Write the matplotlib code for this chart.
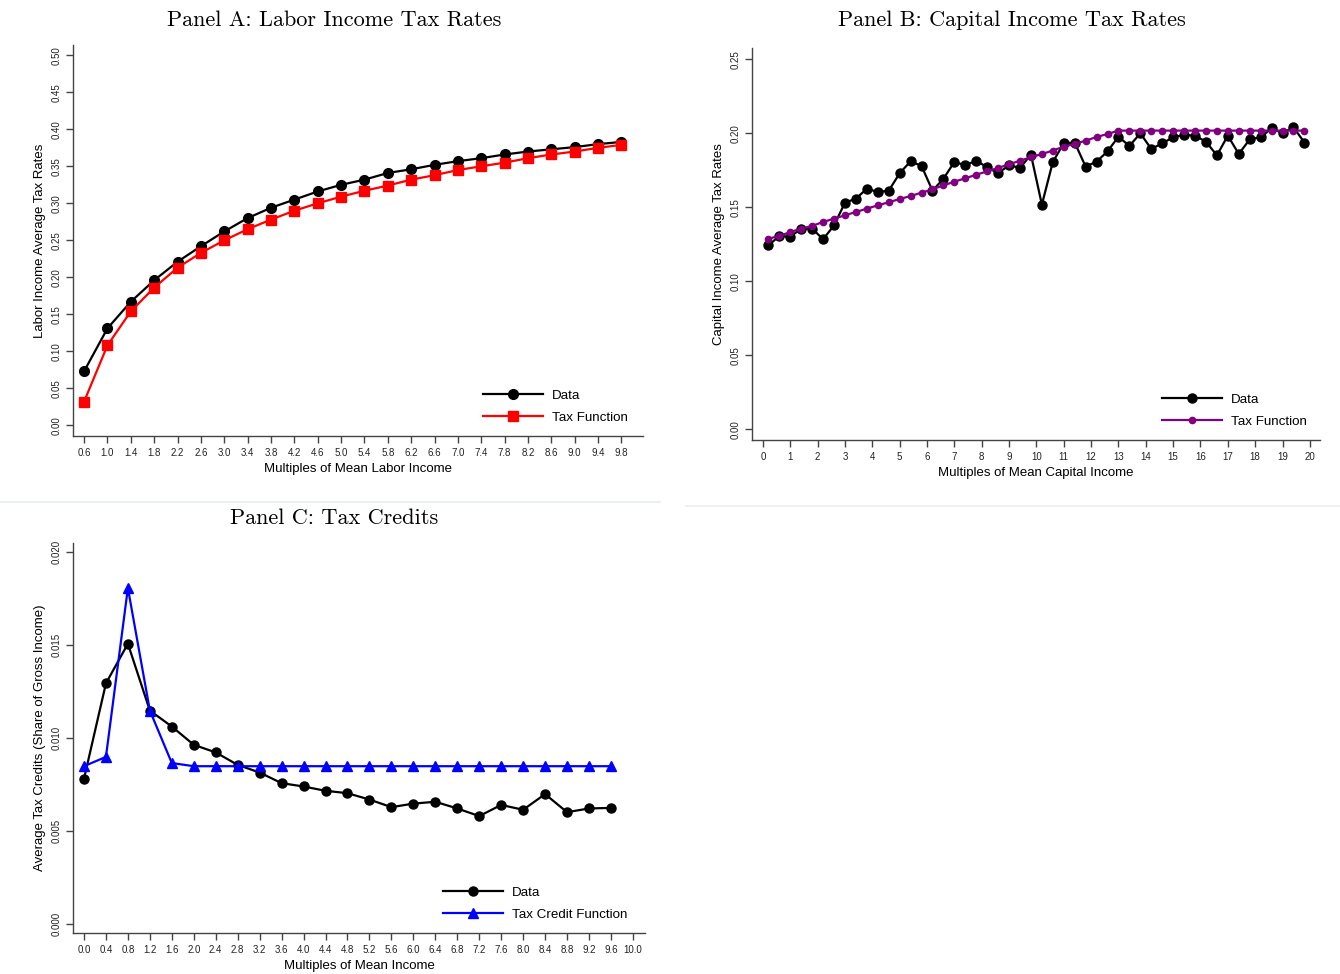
import matplotlib
matplotlib.use("Agg")
import matplotlib.pyplot as plt
import numpy as np

# Panel A: labor income
labor_x = [0.6, 1.0, 1.4, 1.8, 2.2, 2.6, 3.0, 3.4, 3.8, 4.2, 4.6, 5.0,
           5.4, 5.8, 6.2, 6.6, 7.0, 7.4, 7.8, 8.2, 8.6, 9.0, 9.4, 9.8]
labor_data = [0.073, 0.131, 0.167, 0.196, 0.221, 0.242, 0.262, 0.280, 0.294, 0.305,
              0.316, 0.325, 0.332, 0.341, 0.346, 0.352, 0.357, 0.361, 0.366, 0.370,
              0.373, 0.376, 0.380, 0.383]
labor_fn = [0.032, 0.108, 0.154, 0.186, 0.213, 0.233, 0.250, 0.265, 0.278, 0.290,
            0.300, 0.309, 0.317, 0.324, 0.332, 0.338, 0.345, 0.350, 0.355, 0.361,
            0.366, 0.370, 0.375, 0.379]

# Panel B: capital income
cap_x = [0.2, 0.6, 1.0, 1.4, 1.8, 2.2, 2.6, 3.0, 3.4, 3.8, 4.2, 4.6, 5.0, 5.4,
         5.8, 6.2, 6.6, 7.0, 7.4, 7.8, 8.2, 8.6, 9.0, 9.4, 9.8, 10.2, 10.6, 11.0,
         11.4, 11.8, 12.2, 12.6, 13.0, 13.4, 13.8, 14.2, 14.6, 15.0, 15.4, 15.8,
         16.2, 16.6, 17.0, 17.4, 17.8, 18.2, 18.6, 19.0, 19.4, 19.8]
cap_data = [0.1243, 0.1306, 0.1301, 0.1356, 0.1356, 0.1284, 0.1378, 0.1531, 0.1558, 0.1626,
            0.1603, 0.1612, 0.1730, 0.1811, 0.1779, 0.1612, 0.1693, 0.1806, 0.1784, 0.1815,
            0.1770, 0.1730, 0.1784, 0.1766, 0.1856, 0.1518, 0.1806, 0.1932, 0.1937, 0.1775,
            0.1808, 0.1878, 0.1977, 0.1914, 0.2000, 0.1894, 0.1932, 0.1973, 0.1989, 0.1984,
            0.1943, 0.1851, 0.1984, 0.1860, 0.1959, 0.1973, 0.2034, 0.2000, 0.2041, 0.1937]
cap_fn = [0.1288, 0.1306, 0.1333, 0.1356, 0.1374, 0.1401, 0.1423, 0.1446, 0.1468, 0.1491,
          0.1513, 0.1534, 0.1556, 0.1576, 0.1599, 0.1621, 0.1648, 0.1673, 0.1696, 0.1720,
          0.1743, 0.1766, 0.1790, 0.1815, 0.1838, 0.1860, 0.1883, 0.1910, 0.1928, 0.1950,
          0.1975, 0.1995, 0.2018, 0.2018, 0.2018, 0.2018, 0.2018, 0.2018, 0.2018, 0.2018,
          0.2018, 0.2018, 0.2018, 0.2018, 0.2018, 0.2018, 0.2018, 0.2018, 0.2018, 0.2018]

# Panel C: tax credits
cred_x = [0.0, 0.4, 0.8, 1.2, 1.6, 2.0, 2.4, 2.8, 3.2, 3.6, 4.0, 4.4, 4.8,
          5.2, 5.6, 6.0, 6.4, 6.8, 7.2, 7.6, 8.0, 8.4, 8.8, 9.2, 9.6]
cred_data = [0.00781, 0.01294, 0.01507, 0.01148, 0.01062, 0.00964, 0.00923, 0.00856, 0.00815,
             0.00758, 0.00740, 0.00717, 0.00704, 0.00670, 0.00629, 0.00648, 0.00658, 0.00622,
             0.00581, 0.00641, 0.00615, 0.00699, 0.00602, 0.00622, 0.00625]
cred_fn = [0.00849, 0.00899, 0.01806, 0.01148, 0.00866, 0.00849, 0.00849, 0.00849, 0.00849,
           0.00849, 0.00849, 0.00849, 0.00849, 0.00849, 0.00849, 0.00849, 0.00849, 0.00849,
           0.00849, 0.00849, 0.00849, 0.00849, 0.00849, 0.00849, 0.00849]

labor_ticks = labor_x
cap_ticks = list(range(0, 21))
cred_ticks = cred_x + [10.0]

W, H = 1340, 974
fig = plt.figure(figsize=(W / 100, H / 100), dpi=100)
plt.rcParams['font.family'] = ['Liberation Sans', 'DejaVu Sans']

def box(l, r, t, b):
    return [l / W, 1 - b / H, (r - l) / W, (b - t) / H]

def style(ax):
    for s in ['top', 'right']:
        ax.spines[s].set_visible(False)
    for s in ['left', 'bottom']:
        ax.spines[s].set_color('#444444')
        ax.spines[s].set_linewidth(1.0)
    ax.tick_params(direction='out', length=5, width=1, color='#444444',
                   labelsize=7, labelcolor='#222222')
    ax.tick_params(axis='y', labelrotation=90)
    for lab in ax.get_yticklabels():
        lab.set_va('center')

def legend(ax, x, y):
    ax.legend(loc='lower right', bbox_to_anchor=(x, y), frameon=False,
              fontsize=9.6, handlelength=4.5, handletextpad=0.7, labelspacing=0.72)

title_font = dict(family='cmr10', size=16)
lab_size = 9.5

# Panel A
axA = fig.add_axes(box(73, 643, 45, 436))
axA.plot(labor_x, labor_data, color='black', lw=1.6, marker='o', ms=7, label='Data')
axA.plot(labor_x, labor_fn, color='red', lw=1.6, marker='s', ms=7, label='Tax Function')
axA.set_xlim(0.41, 10.17)
axA.set_ylim(-0.0145, 0.514)
axA.set_xticks(labor_ticks)
axA.set_xticklabels(['%.1f' % v for v in labor_ticks])
axA.set_yticks(np.arange(0, 0.51, 0.05))
axA.set_yticklabels(['%.2f' % v for v in np.arange(0, 0.51, 0.05)])
style(axA)
axA.set_xlabel('Multiples of Mean Labor Income', fontsize=lab_size)
axA.set_ylabel('Labor Income Average Tax Rates', fontsize=lab_size)
legend(axA, 0.995, 0.0)
fig.text(334 / W, 1 - 20 / H, 'Panel A: Labor Income Tax Rates', ha='center', va='center', **title_font)

# Panel B
axB = fig.add_axes(box(752, 1320, 48, 440))
axB.plot(cap_x, cap_data, color='black', lw=1.6, marker='o', ms=6.5, label='Data')
axB.plot(cap_x, cap_fn, color='#800080', lw=1.6, marker='o', ms=4.5, label='Tax Function')
axB.set_xlim(-0.40, 20.37)
axB.set_ylim(-0.0072, 0.2576)
axB.set_xticks(cap_ticks)
axB.set_yticks(np.arange(0, 0.26, 0.05))
axB.set_yticklabels(['%.2f' % v for v in np.arange(0, 0.26, 0.05)])
style(axB)
axB.set_xlabel('Multiples of Mean Capital Income', fontsize=lab_size)
axB.set_ylabel('Capital Income Average Tax Rates', fontsize=lab_size)
legend(axB, 0.998, 0.0)
fig.text(1012 / W, 1 - 20 / H, 'Panel B: Capital Income Tax Rates', ha='center', va='center', **title_font)

# Panel C
axC = fig.add_axes(box(73, 645, 543, 933))
axC.plot(cred_x, cred_data, color='black', lw=1.6, marker='o', ms=6.5, label='Data')
axC.plot(cred_x, cred_fn, color='blue', lw=1.6, marker='^', ms=7, label='Tax Credit Function')
axC.set_xlim(-0.2, 10.22)
axC.set_ylim(-0.00047, 0.02048)
axC.set_xticks(cred_ticks)
axC.set_xticklabels(['%.1f' % v for v in cred_ticks])
axC.set_yticks(np.arange(0, 0.0201, 0.005))
axC.set_yticklabels(['%.3f' % v for v in np.arange(0, 0.0201, 0.005)])
style(axC)
axC.set_xlabel('Multiples of Mean Income', fontsize=lab_size)
axC.set_ylabel('Average Tax Credits (Share of Gross Income)', fontsize=lab_size)
legend(axC, 0.99, 0.0)
fig.text(334 / W, 1 - 518 / H, 'Panel C: Tax Credits', ha='center', va='center', **title_font)

# faint separators between the panels
fig.add_artist(plt.Line2D([0, 660 / W], [1 - 502 / H] * 2, color='#e6ecec', lw=1.2))
fig.add_artist(plt.Line2D([686 / W, 1], [1 - 506 / H] * 2, color='#eeeeee', lw=1.2))

fig.savefig('out.png', dpi=100)
